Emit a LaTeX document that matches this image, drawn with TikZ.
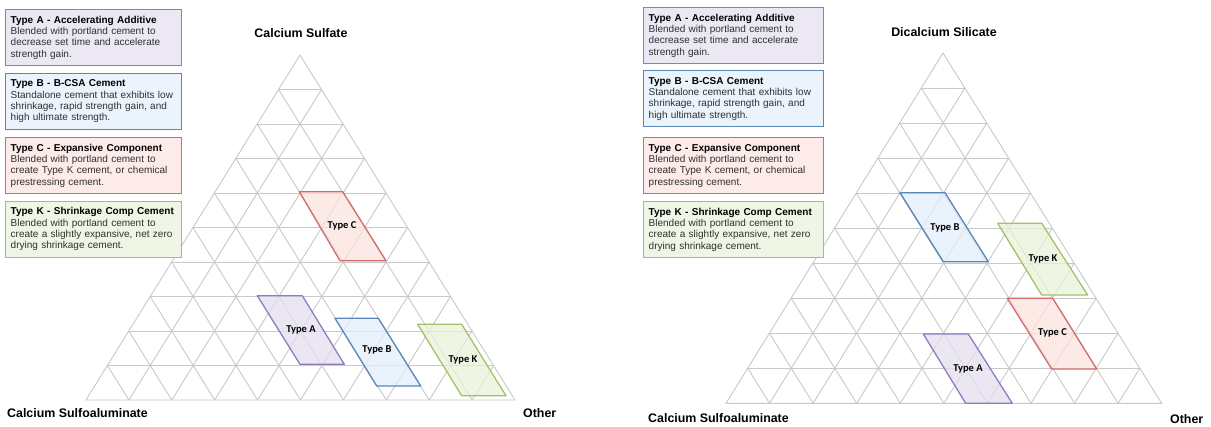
\documentclass[tikz,border=0pt]{standalone}
\usepackage{fontspec}
\setmainfont{Liberation Sans}
\newfontfamily\lblfont{Carlito}
\usetikzlibrary{calc}
\definecolor{purD}{HTML}{8E7CC3}
\definecolor{purL}{HTML}{E4DEEE}
\definecolor{bluD}{HTML}{5A86B8}
\definecolor{bluL}{HTML}{E3EEFB}
\definecolor{redD}{HTML}{D46A6A}
\definecolor{redL}{HTML}{FBE3E0}
\definecolor{grnD}{HTML}{A4C16A}
\definecolor{grnL}{HTML}{EAF2DA}
\definecolor{gridc}{HTML}{C9C9C9}
\definecolor{bodyc}{HTML}{303030}
\newcommand{\legfont}{\hyphenpenalty=10000\relax\fontsize{10}{11.3}\selectfont}
\tikzset{
  gridline/.style={draw=gridc, line width=0.9pt},
  legbox/.style={draw=#1D, fill=#1L!70!white, line width=1.4pt, anchor=north west,
    inner xsep=5pt, inner ysep=2pt, align=left, text width=166pt, minimum height=56pt,
    font=\legfont, text=bodyc},
  legboxR/.style={legbox=#1, text width=170pt},
  region/.style={draw=#1D, fill=#1L, fill opacity=0.75, line width=1.3pt, line join=round},
  rlabel/.style={font=\lblfont\bfseries\fontsize{10.5}{12}\selectfont, inner sep=0pt},
  axlabel/.style={font=\bfseries\fontsize{12.4}{14}\selectfont, inner sep=0pt}
}
\newcommand{\ttitle}[1]{\textbf{\color{black}#1}}
\newcommand{\ternarygrid}[3]{%
  \foreach \i in {1,...,9}{
    \draw[gridline] ($(#1)!\i/10!(#2)$) -- ($(#1)!\i/10!(#3)$);
    \draw[gridline] ($(#1)!\i/10!(#2)$) -- ($(#2)!1-\i/10!(#3)$);
    \draw[gridline] ($(#1)!\i/10!(#3)$) -- ($(#2)!\i/10!(#3)$);
  }
  \draw[gridline] (#1) -- (#2) -- (#3) -- cycle;
}
\begin{document}
\begin{tikzpicture}[x=1pt,y=-1pt]
\useasboundingbox (0,0) rectangle (1211,426);
\fill[white] (0,0) rectangle (1211,426);

% ---------- left triangle ----------
\coordinate (LA) at (300,55);
\coordinate (LL) at (86,400);
\coordinate (LR) at (515,400);
\ternarygrid{LA}{LL}{LR}

\draw[region=red] (299.3,191.7) -- (342.7,191.7) -- (386,260.7) -- (340,260.7) -- cycle;
\draw[region=pur] (257.3,295.7) -- (302.3,295.7) -- (344.3,364.3) -- (300,364.3) -- cycle;
\draw[region=blu] (335,318.3) -- (378.3,318.3) -- (420.7,386) -- (376.7,386) -- cycle;
\draw[region=grn] (417.7,324.3) -- (461.7,324.3) -- (506,395.7) -- (461.7,395.7) -- cycle;
\node[rlabel] (lC) at (342,226) {Type C};
\node[rlabel] (lA) at (301,330) {Type A};
\node[rlabel] (lB) at (377,350) {Type B};
\node[rlabel] (lK) at (463,360) {Type K};

\node[axlabel] (lTop) at (301,33.5) {Calcium Sulfate};
\node[axlabel, anchor=west] (lLeft) at (7,413) {Calcium Sulfoaluminate};
\node[axlabel, anchor=west] (lRight) at (523,413) {Other};

% ---------- left legend ----------
\node[legbox=pur] (lgA) at (5,9) {\ttitle{Type A - Accelerating Additive}\\Blended with portland cement to\\decrease set time and accelerate\\strength gain.};
\node[legbox=blu] (lgB) at (5,72.5) {\ttitle{Type B - B-CSA Cement}\\Standalone cement that exhibits low\\shrinkage, rapid strength gain, and\\high ultimate strength.};
\node[legbox=red] (lgC) at (5,137) {\ttitle{Type C - Expansive Component}\\Blended with portland cement to\\create Type K cement, or chemical\\prestressing cement.};
\node[legbox=grn] (lgK) at (5,200.5) {\ttitle{Type K - Shrinkage Comp Cement}\\Blended with portland cement to\\create a slightly expansive, net zero\\drying shrinkage cement.};

% ---------- right triangle ----------
\coordinate (RA) at (943,53);
\coordinate (RL) at (726,403.3);
\coordinate (RR) at (1161.7,403.3);
\ternarygrid{RA}{RL}{RR}

\draw[region=blu] (900,192.7) -- (945,192.7) -- (988.3,261.7) -- (943.3,261.7) -- cycle;
\draw[region=grn] (997.7,223.3) -- (1041.7,223.3) -- (1087.7,295) -- (1041.7,295) -- cycle;
\draw[region=red] (1007.3,298.3) -- (1052.7,298.3) -- (1096.7,369) -- (1051.7,369) -- cycle;
\draw[region=pur] (923.3,334) -- (968.3,334) -- (1012.3,403.3) -- (965.7,403.3) -- cycle;
\node[rlabel] (rB) at (945,227.5) {Type B};
\node[rlabel] (rK) at (1043,258.5) {Type K};
\node[rlabel] (rC) at (1052.5,333) {Type C};
\node[rlabel] (rA) at (968,369) {Type A};

\node[axlabel] (rTop) at (944,31.7) {Dicalcium Silicate};
\node[axlabel, anchor=west] (rLeft) at (648,418.3) {Calcium Sulfoaluminate};
\node[axlabel, anchor=west] (rRight) at (1170,419) {Other};

% ---------- right legend ----------
\node[legboxR=pur] (rgA) at (643,7) {\ttitle{Type A - Accelerating Additive}\\Blended with portland cement to\\decrease set time and accelerate\\strength gain.};
\node[legboxR=blu] (rgB) at (643,70) {\ttitle{Type B - B-CSA Cement}\\Standalone cement that exhibits low\\shrinkage, rapid strength gain, and\\high ultimate strength.};
\node[legboxR=red] (rgC) at (643,137) {\ttitle{Type C - Expansive Component}\\Blended with portland cement to\\create Type K cement, or chemical\\prestressing cement.};
\node[legboxR=grn] (rgK) at (643,201) {\ttitle{Type K - Shrinkage Comp Cement}\\Blended with portland cement to\\create a slightly expansive, net zero\\drying shrinkage cement.};
\end{tikzpicture}
\end{document}
